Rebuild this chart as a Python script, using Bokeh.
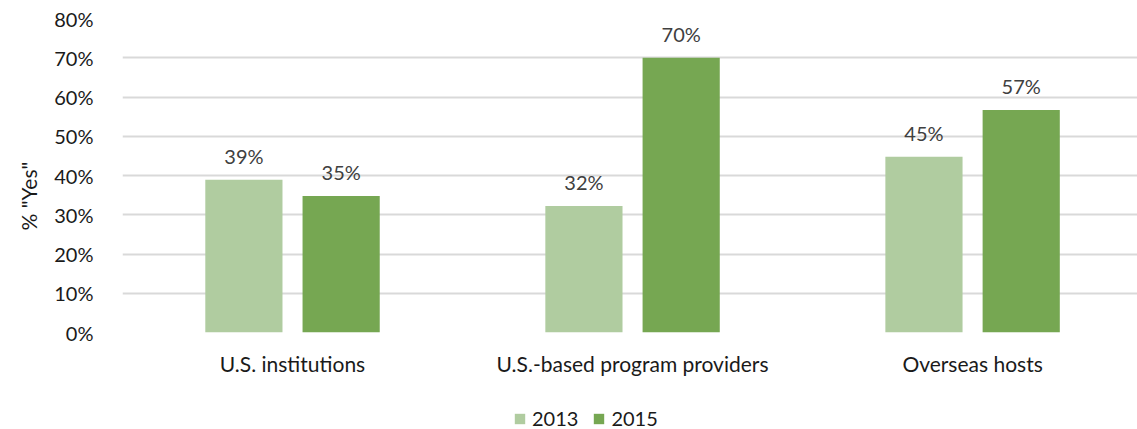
from bokeh.plotting import figure
from bokeh.layouts import column
from bokeh.models import (ColumnDataSource, Range1d, FixedTicker, Legend, LegendItem,
                          NumeralTickFormatter, Title)
from bokeh.core.properties import value
from bokeh.embed import file_html
from bokeh.resources import INLINE

categories = ["U.S. institutions", "U.S.-based program providers", "Overseas hosts"]
series_names = ["2013", "2015"]
values_2013 = [0.389, 0.322, 0.448]
values_2015 = [0.348, 0.700, 0.567]
y_ticks = [0.0, 0.1, 0.2, 0.3, 0.4, 0.5, 0.6, 0.7, 0.8]
y_title = '% "Yes"'

colors = ["#b0cca0", "#76a752"]
FONT = "Lato"
FS = "20px"

p = figure(frame_width=1015, frame_height=314, output_backend="svg", toolbar_location=None,
           x_range=Range1d(0, 2.985), y_range=Range1d(0, 0.8),
           min_border_left=122, min_border_right=0, min_border_top=18, min_border_bottom=57)
p.outline_line_color = None
p.background_fill_color = "white"
p.border_fill_color = "white"

centers = [i + 0.5 for i in range(len(categories))]
offset = 0.143
bar_w = 0.227
for k, (vals, col) in enumerate(zip([values_2013, values_2015], colors)):
    xs = [c + (-offset if k == 0 else offset) for c in centers]
    src = ColumnDataSource(dict(x=xs, top=vals,
                                label=[f"{round(v*100):d}%" for v in vals]))
    p.vbar(x="x", top="top", width=bar_w, bottom=0, source=src,
           fill_color=col, line_color=None)
    p.text(x="x", y="top", text="label", source=src, text_align="center",
           text_baseline="bottom", y_offset=-12, text_font=value(FONT),
           text_font_size=FS, text_color="#404040")

# axes
p.xaxis.ticker = FixedTicker(ticks=centers)
p.xaxis.major_label_overrides = {c: n for c, n in zip(centers, categories)}
p.xaxis.major_label_text_font = FONT
p.xaxis.major_label_text_font_size = "21px"
p.xaxis.major_label_text_color = "#1a1a1a"
p.xaxis.major_label_standoff = 12
p.xaxis.axis_line_color = None
p.xaxis.major_tick_line_color = None
p.xaxis.minor_tick_line_color = None

p.yaxis.ticker = FixedTicker(ticks=y_ticks)
p.yaxis.formatter = NumeralTickFormatter(format="0%")
p.yaxis.major_label_text_font = FONT
p.yaxis.major_label_text_font_size = FS
p.yaxis.major_label_text_color = "#1a1a1a"
p.yaxis.major_label_standoff = 23
p.yaxis.axis_line_color = None
p.yaxis.major_tick_line_color = None
p.yaxis.minor_tick_line_color = None

# y-axis title in the left panel, anchored low as in the reference
p.add_layout(Title(text=y_title, align="left", offset=102, standoff=22,
                   text_font=FONT, text_font_size="21px", text_font_style="normal",
                   text_color="#1a1a1a"), "left")

p.xgrid.grid_line_color = None
p.ygrid.ticker = FixedTicker(ticks=y_ticks)
p.ygrid.grid_line_color = "#d9d9d9"
p.ygrid.grid_line_width = 2

# legend strip below the chart (its frame lines up with the chart's frame)
q = figure(width=1137, height=40, output_backend="svg", toolbar_location=None,
           x_range=Range1d(0, 1), y_range=Range1d(0, 1),
           min_border=0, min_border_left=0, min_border_right=0,
           min_border_top=0, min_border_bottom=0)
q.outline_line_color = None
q.axis.visible = False
q.grid.visible = False
legend_renderers = [q.vbar(x=[-10.0], top=[0.0], width=0.1, fill_color=c, line_color=None)
                    for c in colors]
legend = Legend(items=[LegendItem(label=n, renderers=[r])
                       for n, r in zip(series_names, legend_renderers)],
                orientation="horizontal", location=(391, -1),
                label_text_font=FONT, label_text_font_size=FS, label_text_color="#1a1a1a",
                glyph_width=13, glyph_height=13, spacing=14, label_standoff=6,
                border_line_color=None, background_fill_alpha=0, padding=0, margin=0)
q.add_layout(legend, "center")

open("out.html", "w").write(file_html(column(p, q, spacing=0), INLINE))
